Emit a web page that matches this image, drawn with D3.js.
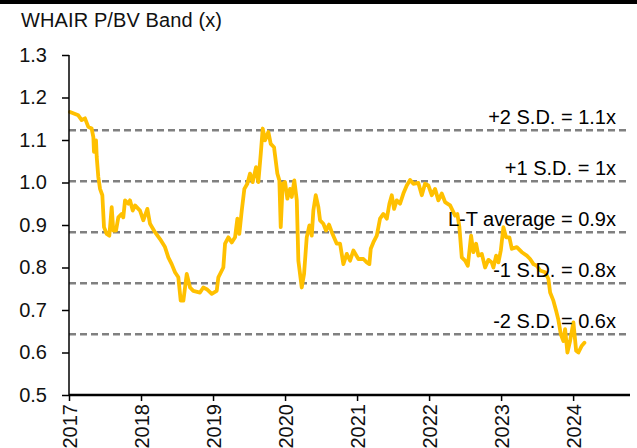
<!DOCTYPE html>
<html>
<head>
<meta charset="utf-8">
<script src="https://cdn.jsdelivr.net/npm/d3@7"></script>
<style>
  html, body { margin: 0; padding: 0; background: #fff; }
  svg { display: block; font-family: "Liberation Sans", Arial, sans-serif; }
</style>
</head>
<body>
<div id="chart"></div>
<script>
const title = "WHAIR P/BV Band (x)";

// decimal year of each reading
const dates = [
  2017.014, 2017.129, 2017.176, 2017.222, 2017.268, 2017.315, 2017.338, 2017.347, 2017.375, 2017.385,
  2017.407, 2017.431, 2017.463, 2017.486, 2017.524, 2017.560, 2017.593, 2017.615, 2017.653, 2017.685,
  2017.732, 2017.754, 2017.778, 2017.824, 2017.847, 2017.885, 2017.917, 2017.986, 2018.032, 2018.088,
  2018.125, 2018.194, 2018.264, 2018.333, 2018.379, 2018.426, 2018.472, 2018.518, 2018.551, 2018.588,
  2018.635, 2018.681, 2018.726, 2018.819, 2018.865, 2018.913, 2018.982, 2019.051, 2019.074, 2019.143,
  2019.167, 2019.213, 2019.260, 2019.306, 2019.338, 2019.365, 2019.399, 2019.435, 2019.476, 2019.514,
  2019.551, 2019.597, 2019.629, 2019.663, 2019.690, 2019.722, 2019.768, 2019.801, 2019.847, 2019.893,
  2019.921, 2019.940, 2019.968, 2020.000, 2020.032, 2020.069, 2020.093, 2020.129, 2020.163, 2020.185,
  2020.232, 2020.264, 2020.301, 2020.338, 2020.371, 2020.393, 2020.426, 2020.463, 2020.486, 2020.532,
  2020.569, 2020.611, 2020.649, 2020.718, 2020.764, 2020.810, 2020.857, 2020.903, 2020.949, 2021.018,
  2021.088, 2021.135, 2021.171, 2021.190, 2021.226, 2021.274, 2021.319, 2021.365, 2021.413, 2021.449,
  2021.482, 2021.514, 2021.551, 2021.597, 2021.643, 2021.690, 2021.736, 2021.782, 2021.851, 2021.899,
  2021.944, 2021.990, 2022.038, 2022.083, 2022.129, 2022.176, 2022.222, 2022.292, 2022.361, 2022.393,
  2022.421, 2022.454, 2022.500, 2022.538, 2022.583, 2022.615, 2022.653, 2022.685, 2022.732, 2022.778,
  2022.824, 2022.871, 2022.893, 2022.931, 2022.963, 2022.996, 2023.032, 2023.069, 2023.115, 2023.149,
  2023.218, 2023.288, 2023.357, 2023.403, 2023.449, 2023.496, 2023.542, 2023.611, 2023.657, 2023.681,
  2023.726, 2023.764, 2023.794, 2023.829, 2023.865, 2023.889, 2023.921, 2023.958, 2024.004, 2024.042,
  2024.074, 2024.121, 2024.157
];

const pbv = [
  1.166, 1.158, 1.147, 1.151, 1.131, 1.127, 1.107, 1.072, 1.099, 1.060,
  1.013, 0.985, 0.970, 0.895, 0.879, 0.875, 0.942, 0.887, 0.887, 0.918,
  0.926, 0.918, 0.958, 0.950, 0.958, 0.934, 0.946, 0.934, 0.911, 0.938,
  0.903, 0.883, 0.867, 0.848, 0.824, 0.808, 0.789, 0.777, 0.722, 0.722,
  0.785, 0.753, 0.745, 0.741, 0.753, 0.749, 0.738, 0.745, 0.777, 0.800,
  0.856, 0.871, 0.859, 0.871, 0.915, 0.879, 0.934, 0.985, 0.997, 1.021,
  1.001, 1.036, 1.001, 1.068, 1.127, 1.099, 1.119, 1.091, 1.083, 1.021,
  1.005, 0.895, 0.997, 1.001, 0.962, 0.985, 0.966, 1.005, 0.958, 0.816,
  0.753, 0.785, 0.871, 0.899, 0.875, 0.934, 0.970, 0.942, 0.911, 0.903,
  0.887, 0.901, 0.883, 0.856, 0.856, 0.808, 0.832, 0.816, 0.840, 0.820,
  0.820, 0.812, 0.808, 0.844, 0.859, 0.875, 0.915, 0.926, 0.915, 0.950,
  0.970, 0.938, 0.958, 0.950, 0.974, 0.993, 1.006, 0.997, 0.999, 0.970,
  0.997, 0.993, 0.970, 0.985, 0.958, 0.974, 0.954, 0.946, 0.922, 0.926,
  0.895, 0.824, 0.816, 0.804, 0.875, 0.836, 0.856, 0.828, 0.832, 0.800,
  0.818, 0.812, 0.800, 0.828, 0.812, 0.840, 0.895, 0.871, 0.871, 0.844,
  0.848, 0.836, 0.828, 0.820, 0.808, 0.804, 0.793, 0.789, 0.773, 0.741,
  0.722, 0.698, 0.678, 0.643, 0.627, 0.655, 0.600, 0.627, 0.671, 0.604,
  0.600, 0.616, 0.623
];

const bandValues = [1.123, 1.003, 0.883, 0.763, 0.643];
const bandLabels = ["+2 S.D. = 1.1x", "+1 S.D. = 1x", "L-T average = 0.9x", "-1 S.D. = 0.8x", "-2 S.D. = 0.6x"];

const yTicks = [0.5, 0.6, 0.7, 0.8, 0.9, 1.0, 1.1, 1.2, 1.3];
const xTicks = [2017, 2018, 2019, 2020, 2021, 2022, 2023, 2024];

const width = 637, height = 448;
const plotLeft = 69, plotRight = 630, plotTop = 55, plotBottom = 395;

const svg = d3.select("#chart")
  .append("svg")
  .attr("width", width)
  .attr("height", height)
  .attr("viewBox", [0, 0, width, height]);

// black rule across the top
svg.append("rect")
  .attr("x", 0).attr("y", 0)
  .attr("width", width).attr("height", 4)
  .attr("fill", "#000");

svg.append("text")
  .attr("x", 21)
  .attr("y", 27)
  .attr("font-size", 20)
  .attr("fill", "#111")
  .attr("textLength", 201)
  .attr("lengthAdjust", "spacing")
  .text(title);

const x = d3.scaleLinear()
  .domain([2017, 2024.79])
  .range([plotLeft, plotRight]);

const y = d3.scaleLinear()
  .domain([0.5, 1.3])
  .range([plotBottom, plotTop]);

// S.D. band lines
svg.append("g")
  .selectAll("line")
  .data(bandValues)
  .enter()
  .append("line")
  .attr("x1", plotLeft)
  .attr("x2", plotRight)
  .attr("y1", d => y(d))
  .attr("y2", d => y(d))
  .attr("stroke", "#808080")
  .attr("stroke-width", 2.5)
  .attr("stroke-dasharray", "7,4");

const series = dates.map((d, i) => ({ t: d, v: pbv[i] }));

const line = d3.line()
  .x(d => x(d.t))
  .y(d => y(d.v));

svg.append("path")
  .datum(series)
  .attr("fill", "none")
  .attr("stroke", "#FFC000")
  .attr("stroke-width", 3.8)
  .attr("stroke-linejoin", "round")
  .attr("stroke-linecap", "round")
  .attr("d", line);

svg.append("g")
  .selectAll("text")
  .data(bandValues)
  .enter()
  .append("text")
  .attr("x", 616)
  .attr("y", d => y(d) - 6)
  .attr("text-anchor", "end")
  .attr("font-size", 20)
  .attr("fill", "#000")
  .text((d, i) => bandLabels[i]);

// y axis
const yAxis = svg.append("g")
  .attr("transform", `translate(${plotLeft},0)`)
  .call(d3.axisLeft(y).tickValues(yTicks).tickFormat(d3.format(".1f")).tickSize(7).tickPadding(15));

yAxis.select(".domain").attr("stroke", "#000").attr("stroke-width", 1.5)
  .attr("d", `M0,${plotTop}V${plotBottom}`);
yAxis.selectAll(".tick line").attr("stroke", "#000").attr("stroke-width", 1.5);
yAxis.selectAll(".tick text")
  .attr("font-size", 20)
  .attr("font-family", "Liberation Sans, Arial, sans-serif")
  .attr("fill", "#111");

// x axis
const xAxis = svg.append("g")
  .attr("transform", `translate(0,${plotBottom})`)
  .call(d3.axisBottom(x).tickValues(xTicks).tickFormat(d3.format("d")).tickSize(6));

xAxis.select(".domain").attr("stroke", "#000").attr("stroke-width", 2.5)
  .attr("d", `M${plotLeft},0H${plotRight}`);
xAxis.selectAll(".tick line").attr("stroke", "#000").attr("stroke-width", 1.5);
xAxis.selectAll(".tick text")
  .attr("font-size", 20)
  .attr("font-family", "Liberation Sans, Arial, sans-serif")
  .attr("fill", "#111")
  .attr("text-anchor", "end")
  .attr("transform", "rotate(-90)")
  .attr("x", -9)
  .attr("y", 0)
  .attr("dy", "0.36em");
</script>
</body>
</html>
